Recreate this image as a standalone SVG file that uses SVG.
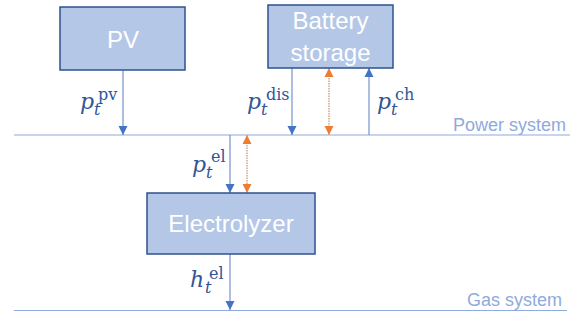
<svg xmlns="http://www.w3.org/2000/svg" width="580" height="320" viewBox="0 0 580 320">
<style>
.box{fill:#b4c7e7;stroke:#2f528f;stroke-width:1.5}
.bt{fill:#ffffff;font-family:"Liberation Sans",Arial,sans-serif;font-size:24px;text-anchor:middle}
.bus{stroke:#8faadc;stroke-width:1.2;fill:none}
.bl{fill:#8faadc;font-family:"Liberation Sans",Arial,sans-serif;font-size:18px;text-anchor:end}
.ar{stroke:#5b7cc0;stroke-width:1;fill:none;marker-end:url(#ab)}
.oa{stroke:#d4a585;stroke-width:1.5;stroke-dasharray:1.5 1;fill:none;marker-start:url(#ao);marker-end:url(#ao)}
.m{fill:#2f5597;font-family:"DejaVu Serif",serif;font-style:italic;font-size:22px}
.s{fill:#2f5597;font-family:"DejaVu Serif",serif;font-style:italic;font-size:16px}
.u{fill:#2f5597;font-family:"DejaVu Serif",serif;font-size:16px}
</style>
<defs>
<marker id="ab" viewBox="0 0 10 10" refX="10" refY="5" markerWidth="9" markerHeight="10" markerUnits="userSpaceOnUse" orient="auto"><path d="M0,0 L10,5 L0,10 z" fill="#4472c4"/></marker>
<marker id="ao" viewBox="0 0 10 10" refX="10" refY="5" markerWidth="9" markerHeight="10" markerUnits="userSpaceOnUse" orient="auto-start-reverse"><path d="M0,0 L10,5 L0,10 z" fill="#ed7d31"/></marker>
</defs>
<g id="buses">
<line class="bus" x1="14" y1="135" x2="570" y2="135"/>
<text class="bl" x="566" y="131">Power system</text>
<line class="bus" x1="14" y1="310.5" x2="567" y2="310.5"/>
<text class="bl" x="562" y="306">Gas system</text>
</g>
<g id="connectors">
<line class="ar" x1="123" y1="70" x2="123" y2="135"/>
<line class="ar" x1="292" y1="68" x2="292" y2="135"/>
<line class="oa" x1="329" y1="68" x2="329" y2="135"/>
<line class="ar" x1="369" y1="135" x2="369" y2="68"/>
<line class="ar" x1="230" y1="135" x2="230" y2="193"/>
<line class="oa" x1="247" y1="135" x2="247" y2="193"/>
<line class="ar" x1="230" y1="254" x2="230" y2="310"/>
</g>
<g id="labels">
<text class="m" x="80" y="109">p</text><text class="s" x="94" y="115">t</text><text class="u" x="98" y="100">pv</text>
<text class="m" x="247" y="109">p</text><text class="s" x="261" y="115">t</text><text class="u" x="266" y="100">dis</text>
<text class="m" x="377" y="109">p</text><text class="s" x="391" y="115">t</text><text class="u" x="395" y="100">ch</text>
<text class="m" x="192" y="172">p</text><text class="s" x="206" y="178">t</text><text class="u" x="211" y="162">el</text>
<text class="m" x="190" y="287">h</text><text class="s" x="205" y="293">t</text><text class="u" x="209" y="279">el</text>
</g>
<g id="pv">
<rect class="box" x="60" y="7" width="125" height="63"/>
<text class="bt" x="123" y="48">PV</text>
</g>
<g id="battery">
<rect class="box" x="268" y="5" width="125" height="63"/>
<text class="bt" x="330.5" y="29">Battery</text>
<text class="bt" x="330.5" y="61">storage</text>
</g>
<g id="electrolyzer">
<rect class="box" x="147" y="193" width="168" height="61"/>
<text class="bt" x="231" y="232">Electrolyzer</text>
</g>
</svg>
